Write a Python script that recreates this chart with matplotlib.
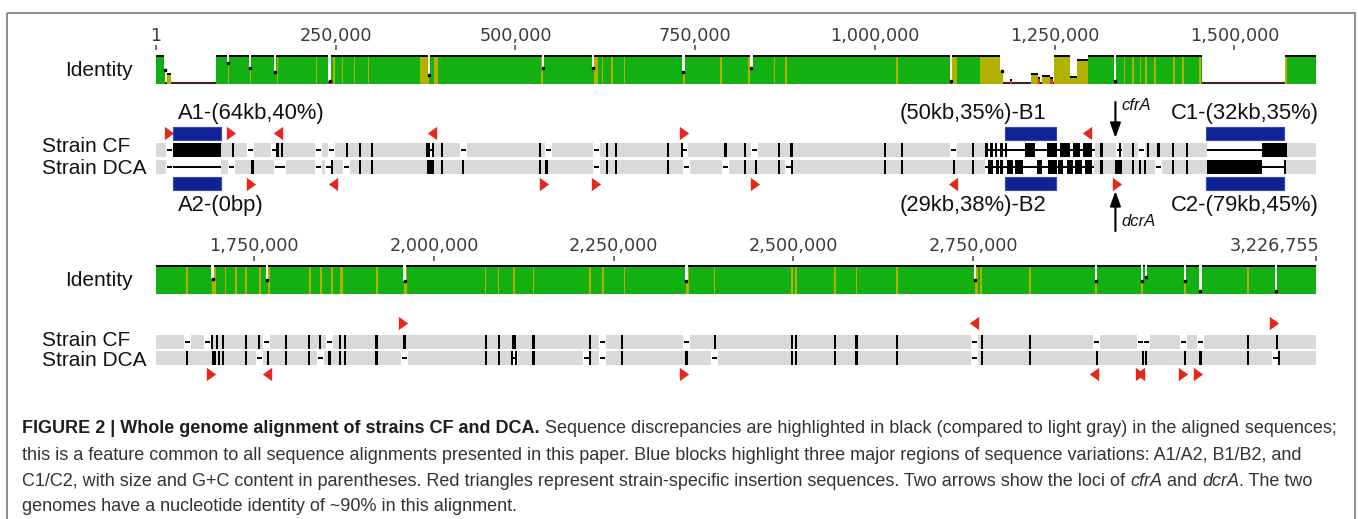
import matplotlib
matplotlib.use("Agg")
import numpy as np
import matplotlib.pyplot as plt
from matplotlib.path import Path
from matplotlib.patches import Rectangle
from matplotlib.transforms import offset_copy
from matplotlib.font_manager import FontProperties

W, H, DPI = 1358, 519, 100
GENOME_LEN = 3226755
ROW_SPAN = 1613378          # each row shows one half of the genome
KB = 1000.0

# ---------------------------------------------------------------- data
row1_ticks = [1, 250000, 500000, 750000, 1000000, 1250000, 1500000]
row2_ticks = [1750000, 2000000, 2250000, 2500000, 2750000, 3226755]

# identity profile: (start_kb, end_kb, identity level 0-1, colour class)
ident1_segments = [
    (0.0, 12.5, 1.0, "g"), (15.3, 20.9, 0.35, "o"), (83.4, 1146.7, 1.0, "g"),
    (1146.7, 1178.0, 1.0, "o"), (1187.7, 1190.5, 0.15, "r"), (1217.0, 1226.7, 0.35, "o"),
    (1226.7, 1229.5, 0.2, "r"), (1232.3, 1243.4, 0.3, "o"), (1243.4, 1247.6, 0.2, "r"),
    (1249.0, 1271.2, 1.0, "o"), (1271.2, 1281.0, 0.25, "o"), (1281.0, 1295.6, 0.85, "o"),
    (1295.6, 1455.5, 1.0, "g"), (1570.8, 1613.4, 1.0, "g"),
]
ident2_segments = [(1613.4, 3226.8, 1.0, "g")]

# narrow identity drops: (position_kb, level, style)
ident1_dips = [
    (13.2, 0.5, "w"), (99.7, 0.74, "w"), (130.7, 0.56, "w"), (165.5, 0.44, "w"),
    (241.4, 0.12, "r"), (379.7, 0.32, "w"), (538.2, 0.56, "w"), (607.8, 0.56, "w"),
    (733.6, 0.44, "w"), (828.2, 0.56, "w"), (1105.7, 0.1, "r"), (1176.0, 0.45, "w"),
    (1333.8, 0.1, "r"),
]
ident2_dips = [
    (1692.0, 0.55, "w"), (1767.3, 0.5, "w"), (1959.1, 0.45, "w"), (2351.2, 0.45, "w"),
    (2752.6, 0.5, "w"), (2920.7, 0.45, "w"), (2984.7, 0.45, "w"), (2990.3, 0.6, "w"),
    (3044.5, 0.45, "w"), (3066.0, 0.1, "r"), (3171.1, 0.1, "r"),
]

# lower-identity stripes inside conserved blocks: (position_kb, width_kb)
ident1_stripes = [
    (100.8, 2), (131.4, 2), (169.0, 2), (223.4, 2), (247.6, 2), (259.5, 2), (276.4, 2),
    (295.7, 2), (373.4, 12), (389.4, 5), (536.8, 2), (612.0, 5), (621.4, 2), (634.2, 2),
    (651.6, 2), (734.3, 3), (785.8, 2), (824.8, 2), (860.2, 2), (876.2, 2), (1030.6, 2),
    (1110.0, 8), (1347.0, 2), (1358.8, 2), (1369.2, 2), (1376.9, 2), (1389.4, 2),
    (1415.8, 2), (1428.3, 2), (1452.0, 2), (1571.5, 2),
]
ident2_stripes = [
    (1656.5, 2), (1694.0, 5), (1710.0, 2), (1724.6, 2), (1738.6, 2), (1758.0, 2),
    (1770.5, 2), (1827.6, 2), (1842.9, 2), (1858.2, 2), (1871.4, 3), (1920.7, 2),
    (1960.4, 3), (2071.9, 2), (2090.0, 2), (2111.3, 4), (2138.3, 2), (2216.7, 2),
    (2234.8, 2), (2265.0, 2), (2352.6, 4), (2390.4, 2), (2497.9, 2), (2503.5, 2),
    (2557.7, 2), (2587.6, 2), (2643.7, 2), (2754.5, 4), (2760.8, 2), (2829.0, 2),
    (2920.7, 3), (2984.7, 3), (3044.5, 3), (3132.2, 2),
]

# aligned sequences: gaps (start_kb, end_kb) and discrepancies (start_kb, end_kb)
cf1_gaps = [
    (18.1, 18.1), (131.6, 131.6), (165.5, 165.5), (226.3, 226.3), (244.4, 244.4),
    (381.0, 381.0), (427.0, 427.0), (546.0, 546.0), (612.4, 612.4), (735.0, 735.0),
    (832.5, 832.5), (1109.8, 1109.8), (1153.0, 1306.0), (1340.7, 1340.7),
    (1370.9, 1370.9), (1461.3, 1537.8),
]
cf1_marks = [
    (24.1, 90.0), (107.1, 107.1), (169.0, 169.0), (175.2, 175.2), (265.6, 265.6),
    (283.7, 283.7), (299.9, 299.9), (376.9, 376.9), (379.7, 379.7), (385.3, 385.3),
    (397.8, 397.8), (534.1, 534.1), (627.2, 627.2), (639.5, 639.5), (711.8, 711.8),
    (731.6, 731.6), (792.1, 792.1), (819.2, 819.2), (866.1, 866.1), (882.4, 886.4),
    (1013.5, 1013.5), (1037.5, 1037.5), (1135.9, 1135.9),
    (1153.0, 1157.5), (1160.0, 1164.5), (1167.0, 1170.0), (1174.0, 1178.0),
    (1181.0, 1184.0), (1208.6, 1222.5), (1239.0, 1253.0), (1257.0, 1271.0),
    (1275.0, 1285.0), (1289.0, 1302.0),
    (1315.0, 1315.0), (1340.7, 1340.7), (1358.4, 1358.4), (1379.7, 1379.7),
    (1392.3, 1396.3), (1414.5, 1414.5), (1433.9, 1433.9), (1537.8, 1572.6),
]
dca1_gaps = [
    (18.1, 18.1), (24.3, 90.4), (105.7, 105.7), (169.0, 169.0), (176.6, 176.6),
    (226.3, 226.3), (240.6, 240.6), (265.6, 265.6), (612.0, 612.0), (737.8, 737.8),
    (792.1, 792.1), (880.0, 880.0), (1153.0, 1304.6), (1395.0, 1395.0),
    (1537.8, 1570.2),
]
dca1_marks = [
    (132.6, 136.6), (244.4, 244.4), (283.7, 283.7), (299.9, 299.9), (377.0, 386.0),
    (397.8, 397.8), (427.0, 427.0), (534.1, 534.1), (543.0, 543.0), (627.2, 627.2),
    (639.5, 639.5), (711.8, 711.8), (819.2, 819.2), (832.5, 836.5), (866.1, 866.1),
    (884.4, 884.4), (1013.5, 1013.5), (1037.5, 1037.5), (1109.8, 1109.8),
    (1135.9, 1135.9),
    (1157.0, 1164.0), (1169.0, 1172.0), (1174.0, 1178.4), (1183.0, 1192.0),
    (1194.6, 1205.8), (1224.9, 1231.8), (1240.6, 1253.1), (1254.5, 1261.5),
    (1266.6, 1275.4), (1278.2, 1288.0), (1292.0, 1302.0),
    (1315.0, 1315.0), (1333.8, 1343.5), (1359.0, 1359.0), (1368.6, 1368.6),
    (1375.5, 1375.5), (1414.5, 1414.5), (1433.9, 1433.9), (1461.3, 1537.8),
    (1570.2, 1570.2),
]
cf2_gaps = [
    (1656.9, 1656.9), (1685.7, 1685.7), (1767.3, 1767.3), (1854.8, 1854.8),
    (2234.8, 2234.8), (2351.2, 2351.2), (2752.3, 2752.3), (2921.1, 2921.1),
    (2982.6, 2982.6), (2990.5, 2990.5), (3043.0, 3043.0), (3066.0, 3066.0),
]
cf2_marks = [
    (1691.3, 1691.3), (1696.4, 1699.4), (1705.4, 1708.4), (1738.4, 1738.4),
    (1757.0, 1757.0), (1794.4, 1794.4), (1824.4, 1827.4), (1841.5, 1841.5),
    (1869.8, 1869.8), (1875.9, 1875.9), (1920.0, 1920.0), (1957.6, 1960.6),
    (2070.4, 2073.4), (2088.5, 2091.5), (2108.8, 2114.4), (2138.3, 2138.3),
    (2215.2, 2218.2), (2261.9, 2261.9), (2390.4, 2390.4), (2497.9, 2497.9),
    (2503.5, 2503.5), (2557.7, 2557.7), (2587.6, 2587.6), (2643.7, 2643.7),
    (2762.6, 2762.6), (2829.5, 2829.5), (3132.2, 3132.2), (3171.0, 3174.0),
]
dca2_gaps = [
    (1757.0, 1757.0), (1841.5, 1841.5), (1959.1, 1959.1), (2111.3, 2111.3),
    (2212.8, 2212.8), (2234.8, 2234.8), (2390.4, 2390.4), (2752.3, 2752.3),
    (3171.0, 3171.0),
]
dca2_marks = [
    (1656.9, 1656.9), (1690.8, 1696.2), (1700.9, 1700.9), (1706.9, 1706.9),
    (1738.4, 1738.4), (1769.2, 1769.2), (1794.4, 1794.4), (1824.4, 1827.4),
    (1854.8, 1854.8), (1869.8, 1869.8), (1875.9, 1875.9), (1920.0, 1920.0),
    (2070.4, 2073.4), (2088.5, 2091.5), (2108.5, 2108.5), (2114.0, 2114.0),
    (2138.3, 2138.3), (2217.0, 2217.0), (2261.9, 2261.9), (2349.7, 2352.7),
    (2497.9, 2497.9), (2503.5, 2503.5), (2557.7, 2557.7), (2587.6, 2587.6),
    (2643.7, 2643.7), (2762.6, 2762.6), (2829.5, 2829.5), (2920.6, 2923.6),
    (2984.6, 2987.6), (2989.0, 2992.0), (3043.3, 3046.3), (3066.0, 3066.0),
    (3132.2, 3132.2), (3175.2, 3175.2),
]

# strain-specific insertion sequences (kb) and their orientation
is_cf1_fwd = [18.1, 105.0, 735.0]
is_cf1_rev = [169.7, 383.9, 1294.8]
is_dca1_fwd = [132.8, 539.6, 612.0, 833.1, 1336.5]
is_dca1_rev = [246.2, 1108.5]
is_cf2_fwd = [1956.9, 3168.3]
is_cf2_rev = [2750.4]
is_dca2_fwd = [1689.5, 2348.4, 2982.0, 3041.7, 3062.6]
is_dca2_rev = [1767.8, 2918.0, 2982.0]

# major variable regions (kb) and their labels
region_A = (23.6, 90.4)
region_B = (1181.5, 1251.8)
region_C = (1460.4, 1569.0)
label_A1, label_A2 = "A1-(64kb,40%)", "A2-(0bp)"
label_B1, label_B2 = "(50kb,35%)-B1", "(29kb,38%)-B2"
label_C1, label_C2 = "C1-(32kb,35%)", "C2-(79kb,45%)"
cfrA_locus = 1334.4
dcrA_locus = 1334.4

caption_runs = [
    [("FIGURE 2 | Whole genome alignment of strains CF and DCA.", "bold", "normal"),
     (" Sequence discrepancies are highlighted in black (compared to light gray) in the aligned sequences;", "normal", "normal")],
    [("this is a feature common to all sequence alignments presented in this paper. Blue blocks highlight three major regions of sequence variations: A1/A2, B1/B2, and", "normal", "normal")],
    [("C1/C2, with size and G+C content in parentheses. Red triangles represent strain-specific insertion sequences. Two arrows show the loci of ", "normal", "normal"),
     ("cfrA", "normal", "italic"), (" and ", "normal", "normal"),
     ("dcrA", "normal", "italic"), (". The two", "normal", "normal")],
    [("genomes have a nucleotide identity of ~90% in this alignment.", "normal", "normal")],
]

# ---------------------------------------------------------------- style
GREEN, OLIVE, RED_ID = "#12b012", "#b3b000", "#e0301e"
IDENT_COL = {"g": GREEN, "o": OLIVE, "r": RED_ID}
TRACK_GRAY = "#d9d9d9"
TRI_RED = "#e5281c"
BLUE, BLUE_EDGE = "#0f2396", "#3448b8"
LABEL_FONT = "Liberation Sans"

X0, X1 = 156, 1316
BP_PX = ROW_SPAN / (X1 - X0)
TRACK_H = 13.5

ROW1 = dict(tick_label=36, tick=(45, 50), ident=(56, 84), tri_up=133, cf=143,
            dca=160, tri_dn=184, blue_up=127, blue_dn=177, lab_up=114, lab_dn=206,
            name_cf=147, name_dca=168)
ROW2 = dict(tick_label=246, tick=(256, 261), ident=(266, 294), tri_up=323, cf=335,
            dca=351, tri_dn=374, name_cf=340, name_dca=361)

fig = plt.figure(figsize=(W / DPI, H / DPI), dpi=DPI)
fig.patch.set_facecolor("white")

ax_px = fig.add_axes([0, 0, 1, 1])
ax_px.set_xlim(0, W)
ax_px.set_ylim(H, 0)
ax_px.axis("off")


def row_axes(start):
    ax = fig.add_axes([X0 / W, 0, (X1 - X0) / W, 1])
    ax.set_xlim(start, start + ROW_SPAN)
    ax.set_ylim(H, 0)
    ax.axis("off")
    ax.patch.set_alpha(0)
    return ax


ax1 = row_axes(0)
ax2 = row_axes(ROW_SPAN)

TRI_R = Path([(-0.35, -0.5), (0.35, 0.0), (-0.35, 0.5), (-0.35, -0.5)],
             [Path.MOVETO, Path.LINETO, Path.LINETO, Path.CLOSEPOLY])
TRI_L = Path([(0.35, -0.5), (-0.35, 0.0), (0.35, 0.5), (0.35, -0.5)],
             [Path.MOVETO, Path.LINETO, Path.LINETO, Path.CLOSEPOLY])


def draw_ticks(ax, ticks, L):
    for t in ticks:
        ax.vlines(t, L["tick"][0], L["tick"][1], color="#555555", lw=1.2, clip_on=False)
        if t == GENOME_LEN:
            tr = offset_copy(ax.transData, fig=fig, x=3.6, y=0, units="dots")
            ax.text(t, L["tick_label"], f"{t:,}", ha="right", va="center", transform=tr,
                    fontsize=12.7, family="DejaVu Sans", color="#3c3c3c", clip_on=False)
        else:
            ax.text(t, L["tick_label"], f"{t:,}", ha="center", va="center",
                    fontsize=12.7, family="DejaVu Sans", color="#3c3c3c", clip_on=False)


def draw_identity(ax, L, segments, dips, stripes, start_bp, end_bp):
    top, bot = L["ident"]
    h = bot - top
    ax.hlines(bot - 0.6, start_bp, end_bp, color="#3a2626", lw=1.5, zorder=1)
    for s, e, lev, kind in segments:
        ax.bar(s * KB, -lev * h, width=(e - s) * KB, bottom=bot, align="edge",
               color=IDENT_COL[kind], linewidth=0, zorder=2)
        ax.hlines(bot - lev * h, s * KB, e * KB, color="black", lw=1.4, zorder=4)
    for p, w in stripes:
        wb = max(w * KB, 1.4 * BP_PX)
        ax.bar(p * KB - wb / 2, -h, width=wb, bottom=bot, align="edge",
               color=OLIVE, linewidth=0, zorder=3)
    for p, lev, style in dips:
        wb = 2.2 * BP_PX
        x = p * KB - wb / 2
        if style == "r":
            ax.bar(x, h, width=wb, bottom=top - 1, align="edge", color="white",
                   linewidth=0, zorder=5)
            ax.bar(x, -lev * h, width=wb, bottom=bot, align="edge", color=RED_ID,
                   linewidth=0, zorder=6)
        else:
            ax.bar(x, (1 - lev) * h + 1, width=wb, bottom=top - 1, align="edge",
                   color="white", linewidth=0, zorder=5)
        ax.plot([p * KB], [bot - lev * h], marker="s", ms=1.8, color="black",
                linewidth=0, zorder=7)


def draw_track(ax, y, start_bp, end_bp, gaps, marks):
    ax.broken_barh([(start_bp, end_bp - start_bp)], (y, TRACK_H),
                   facecolor=TRACK_GRAY, linewidth=0, zorder=2)
    for s, e in gaps:
        c = (s + e) / 2 * KB
        wb = max((e - s) * KB, 7 * BP_PX)
        ax.broken_barh([(c - wb / 2, wb)], (y, TRACK_H), facecolor="white",
                       linewidth=0, zorder=3)
        lb = max((e - s) * KB, 5 * BP_PX)
        ax.hlines(y + TRACK_H / 2, c - lb / 2, c + lb / 2, color="black", lw=1.4,
                  zorder=4)
    for s, e in marks:
        c = (s + e) / 2 * KB
        wb = max((e - s) * KB, 2.2 * BP_PX)
        ax.broken_barh([(c - wb / 2, wb)], (y - 0.5, TRACK_H + 1), facecolor="black",
                       linewidth=0, zorder=5)


def draw_triangles(ax, y, fwd, rev):
    if fwd:
        ax.scatter(np.array(fwd) * KB, [y] * len(fwd), marker=TRI_R, s=9.6 ** 2,
                   color=TRI_RED, linewidths=0, zorder=6, clip_on=False)
    if rev:
        ax.scatter(np.array(rev) * KB, [y] * len(rev), marker=TRI_L, s=9.6 ** 2,
                   color=TRI_RED, linewidths=0, zorder=6, clip_on=False)


# ---- row 1
draw_ticks(ax1, row1_ticks, ROW1)
draw_identity(ax1, ROW1, ident1_segments, ident1_dips, ident1_stripes, 0, ROW_SPAN)
draw_track(ax1, ROW1["cf"], 0, ROW_SPAN, cf1_gaps, cf1_marks)
draw_track(ax1, ROW1["dca"], 0, ROW_SPAN, dca1_gaps, dca1_marks)
draw_triangles(ax1, ROW1["tri_up"], is_cf1_fwd, is_cf1_rev)
draw_triangles(ax1, ROW1["tri_dn"], is_dca1_fwd, is_dca1_rev)

for (s, e) in (region_A, region_B, region_C):
    for y in (ROW1["blue_up"], ROW1["blue_dn"]):
        ax1.broken_barh([(s * KB, (e - s) * KB)], (y, 13), facecolor=BLUE,
                        edgecolor=BLUE_EDGE, linewidth=0.8, zorder=6)

lab_kw = dict(fontsize=15.8, family=LABEL_FONT, color="#111111", va="center",
              clip_on=False)
trA = offset_copy(ax1.transData, fig=fig, x=5, y=0, units="dots")
ax1.text(region_A[0] * KB, ROW1["lab_up"], label_A1, ha="left", transform=trA, **lab_kw)
ax1.text(region_A[0] * KB, ROW1["lab_dn"], label_A2, ha="left", transform=trA, **lab_kw)
trB = offset_copy(ax1.transData, fig=fig, x=-10, y=0, units="dots")
ax1.text(region_B[1] * KB, ROW1["lab_up"], label_B1, ha="right", transform=trB, **lab_kw)
ax1.text(region_B[1] * KB, ROW1["lab_dn"], label_B2, ha="right", transform=trB, **lab_kw)
cC = (region_C[0] + region_C[1]) / 2 * KB
ax1.text(cC, ROW1["lab_up"], label_C1, ha="center", **lab_kw)
ax1.text(cC, ROW1["lab_dn"], label_C2, ha="center", **lab_kw)

arrow_kw = dict(arrowstyle="-|>,head_length=0.9,head_width=0.32", color="black",
                lw=1.5, shrinkA=0, shrinkB=0)
ax1.annotate("", xy=(cfrA_locus * KB, 138), xytext=(cfrA_locus * KB, 102),
             arrowprops=arrow_kw, annotation_clip=False, zorder=7)
ax1.annotate("", xy=(dcrA_locus * KB, 191), xytext=(dcrA_locus * KB, 231),
             arrowprops=arrow_kw, annotation_clip=False, zorder=7)
trG = offset_copy(ax1.transData, fig=fig, x=6, y=0, units="dots")
ax1.text(cfrA_locus * KB, 106, "cfrA", ha="left", va="center", style="italic",
         fontsize=12, family=LABEL_FONT, color="#111111", transform=trG)
ax1.text(dcrA_locus * KB, 222, "dcrA", ha="left", va="center", style="italic",
         fontsize=12, family=LABEL_FONT, color="#111111", transform=trG)

# ---- row 2
draw_ticks(ax2, row2_ticks, ROW2)
draw_identity(ax2, ROW2, ident2_segments, ident2_dips, ident2_stripes, ROW_SPAN, GENOME_LEN)
draw_track(ax2, ROW2["cf"], ROW_SPAN, GENOME_LEN, cf2_gaps, cf2_marks)
draw_track(ax2, ROW2["dca"], ROW_SPAN, GENOME_LEN, dca2_gaps, dca2_marks)
draw_triangles(ax2, ROW2["tri_up"], is_cf2_fwd, is_cf2_rev)
draw_triangles(ax2, ROW2["tri_dn"], is_dca2_fwd, is_dca2_rev)

# ---- track names
name_kw = dict(fontsize=15, family=LABEL_FONT, color="#111111", va="center", ha="left")
for L in (ROW1, ROW2):
    ax_px.text(65, (L["ident"][0] + L["ident"][1]) / 2, "Identity", **name_kw)
    ax_px.text(42, L["name_cf"], "Strain CF", **name_kw)
    ax_px.text(42, L["name_dca"], "Strain DCA", **name_kw)

# ---- frame
ax_px.add_patch(Rectangle((7, 13), 1348, 540, fill=False, edgecolor="#8c8c8c", lw=1.4))

# ---- caption
renderer = fig.canvas.get_renderer()


def fp_for(size, weight="normal", style="normal"):
    return FontProperties(family=LABEL_FONT, size=size, weight=weight, style=style)


def run_width(s, fp):
    w1 = renderer.get_text_width_height_descent("|" + s + "|", fp, ismath=False)[0]
    w0 = renderer.get_text_width_height_descent("||", fp, ismath=False)[0]
    return w1 - w0


ref = caption_runs[1][0][0]
size = 10 * (1305 - 22) / run_width(ref, fp_for(10))
baselines = [433, 460, 486, 511]
for runs, yb in zip(caption_runs, baselines):
    x = 22
    for s, weight, style in runs:
        fp = fp_for(size, weight, style)
        lead = len(s) - len(s.lstrip(" "))
        xs = x + (run_width(" " * lead, fp) if lead else 0)
        ax_px.text(xs, yb, s.lstrip(" "), fontproperties=fp, ha="left", va="baseline",
                   color="#1e1e1e" if weight == "bold" else "#333333")
        x += run_width(s, fp)

fig.savefig("out.png", dpi=DPI)
